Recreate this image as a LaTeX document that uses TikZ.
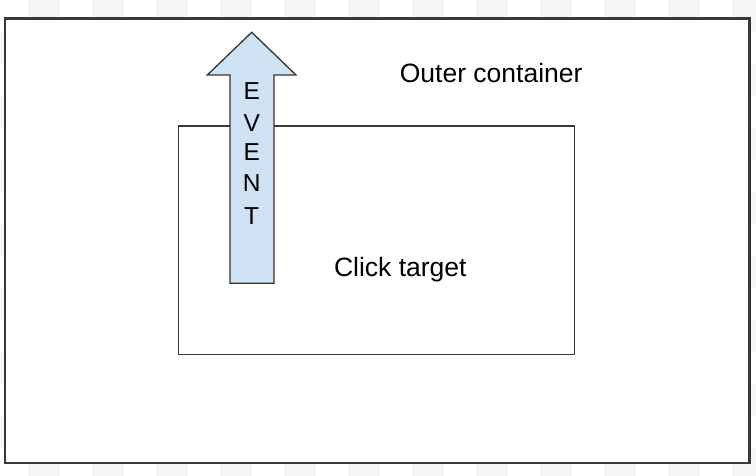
\documentclass[tikz,border=0pt]{standalone}
\usepackage{fontspec}
\setmainfont{Liberation Sans}
\begin{document}
\begin{tikzpicture}[x=1bp,y=-1bp,
  checker/.style={fill=black!4,draw=none},
  boxline/.style={draw=black!78,line width=1.3bp},
  outerline/.style={draw=black!78,line width=2.2bp,fill=white},
  arrowbody/.style={draw=black!80,line width=1.3bp,fill=evfill,line join=miter},
  lbl/.style={inner sep=0pt,anchor=base,font=\fontsize{26.5bp}{30bp}\selectfont},
  letter/.style={inner sep=0pt,anchor=base,font=\fontsize{24.5bp}{28bp}\selectfont}]
\definecolor{evfill}{HTML}{CFE2F3}
\useasboundingbox (0,0) rectangle (756,476);
\begin{scope}
\clip (0,0) rectangle (756,476);
\foreach \r in {0,...,14}{
  \pgfmathsetmacro{\off}{mod(\r,2)==0 ? 28 : -4}
  \foreach \k in {0,...,12}{
    \fill[checker] ({\off+64*\k},{32*\r}) rectangle ++(32,32);
  }
}
\end{scope}
\node[outerline,rectangle,inner sep=0pt,minimum width=744.3bp,minimum height=444.2bp,anchor=north west] (outer) at (4,17.5) {};
\node[boxline,rectangle,inner sep=0pt,minimum width=396bp,minimum height=228bp,anchor=north west] (inner) at (177.5,125.5) {};
\coordinate (tip) at (251.7,32.3);
\draw[arrowbody] (tip) -- (296,75) -- (274,75) -- (274,283.3) -- (230,283.3) -- (230,75) -- (207.3,75) -- cycle;
\node[letter] (e1) at (251.7,99.5) {E};
\node[letter] (v) at (251.7,131.5) {V};
\node[letter] (e2) at (251.7,161) {E};
\node[letter] (n) at (251.7,192) {N};
\node[letter] (t) at (251.7,225) {T};
\node[lbl] (outerlabel) at (491.2,82.5) {Outer container};
\node[lbl] (innerlabel) at (400.3,277) {Click target};
\end{tikzpicture}
\end{document}
